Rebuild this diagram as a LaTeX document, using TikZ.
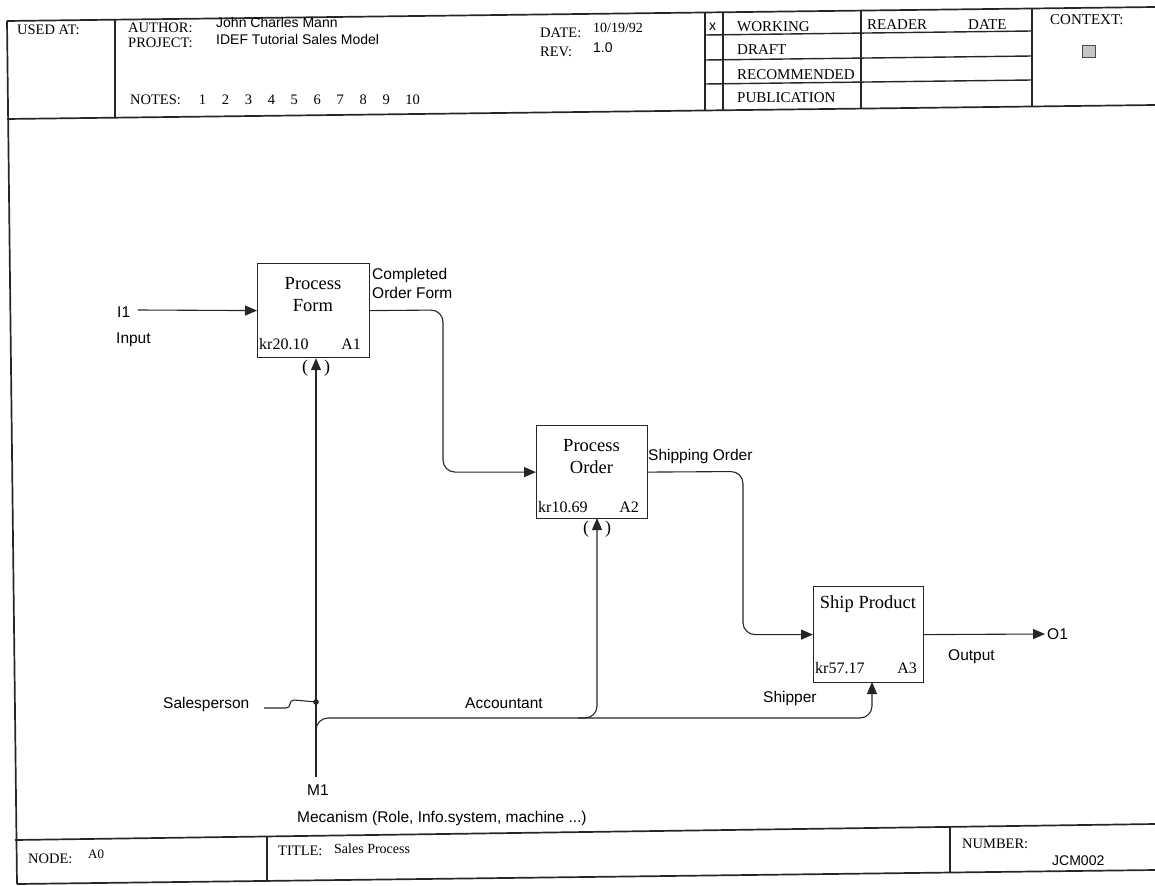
\documentclass[tikz,border=0pt]{standalone}
\usepackage{fontspec}
\setmainfont{Liberation Serif}
\newfontfamily\sansf{Liberation Sans}
\usetikzlibrary{arrows.meta}
\begin{document}
\begin{tikzpicture}[x=1pt,y=-1pt,
  frame/.style={line width=1.7pt, draw=black!85},
  grid/.style={line width=1.4pt, draw=black!85},
  thin/.style={line width=1.1pt, draw=black!85},
  conn/.style={line width=1.1pt, draw=black!85, rounded corners=12pt},
  arr/.style={-{Triangle[length=12pt,width=10pt]}},
  box/.style={draw=black!85, line width=1.2pt, anchor=north west, inner sep=0pt},
  hd/.style={font=\fontsize{14.5}{17}\selectfont, anchor=base west, inner sep=0pt},
  st/.style={font=\fontsize{15}{17}\selectfont, anchor=base west, inner sep=0pt},
  hv/.style={font=\sansf\fontsize{14}{17}\selectfont, anchor=base west, inner sep=0pt},
  lbl/.style={font=\sansf\fontsize{15.5}{18}\selectfont, anchor=base west, inner sep=0pt},
  bt/.style={font=\fontsize{18.5}{22}\selectfont, align=center, inner sep=0pt},
  bs/.style={font=\fontsize{16}{18}\selectfont, inner sep=0pt},
  par/.style={font=\fontsize{18}{20}\selectfont, inner sep=0pt}]
\useasboundingbox (0,0) rectangle (1155,885);

% ---------- frame ----------
\draw[frame] (7,21) -- (1155,7);
\draw[frame] (7,119) -- (1155,105);
\draw[frame] (7,21) -- (17,884);
\draw[frame] (15,840) -- (1155,824);
\draw[frame] (17,884) -- (1155,870);
\draw[frame] (115,19.7) -- (115,117.7);
\draw[frame] (705,12.5) -- (705,110.5);
\draw[grid] (723,12.3) -- (723,110.3);
\draw[grid] (861,10.6) -- (861,108.6);
\draw[frame] (1032,8.5) -- (1032,106.5);
\draw[grid] (705,35) -- (1032,31);
\draw[grid] (705,60) -- (1032,56);
\draw[grid] (705,84) -- (1032,80);
\draw[frame] (267,836.5) -- (267,881);
\draw[frame] (950,826.9) -- (950,872.5);

% ---------- header texts ----------
\node[hd] (usedat) at (17,35) {USED AT:};
\node[hd] (author) at (128,33) {AUTHOR:};
\node[hv] (authorv) at (216,28) {John Charles Mann};
\node[hd] (project) at (128,48) {PROJECT:};
\node[hv] (projectv) at (216,45) {IDEF Tutorial Sales Model};
\node[hd] (notes) at (130,105) {NOTES:\hspace{18pt}1\hspace{15.7pt}2\hspace{15.7pt}3\hspace{15.7pt}4\hspace{15.7pt}5\hspace{15.7pt}6\hspace{15.7pt}7\hspace{15.7pt}8\hspace{15.7pt}9\hspace{15.7pt}10};
\node[hd] (date) at (540,38) {DATE:};
\node[font=\fontsize{14}{16}\selectfont, anchor=base west, inner sep=0pt] (datev) at (593,33) {10/19/92};
\node[hd] (rev) at (540,57) {REV:};
\node[hv] (revv) at (593,53) {1.0};
\node[hv] (xmark) at (709,31) {x};
\node[st] (working) at (737,32) {WORKING};
\node[st] (draft) at (737,55) {DRAFT};
\node[st] (recom) at (737,80) {RECOMMENDED};
\node[st] (public) at (737,103) {PUBLICATION};
\node[st] (reader) at (867,30) {READER};
\node[st] (rdate) at (968,30) {DATE};
\node[st] (context) at (1050,25) {CONTEXT:};
\filldraw[fill=gray!45, draw=gray!60!black, line width=0.8pt] (1082,45) rectangle (1095,57);

% ---------- footer texts ----------
\node[hd] (node) at (28,863) {NODE:};
\node[font=\fontsize{13}{15}\selectfont, anchor=base west, inner sep=0pt] (nodev) at (88,858) {A0};
\node[hd] (title) at (278,855) {TITLE:};
\node[font=\fontsize{14}{16}\selectfont, anchor=base west, inner sep=0pt] (titlev) at (334,853) {Sales Process};
\node[hd] (number) at (962,848) {NUMBER:};
\node[hv] (numberv) at (1052,865) {JCM002};

% ---------- activity boxes ----------
\node[box, minimum width=112pt, minimum height=94pt] (A1) at (257,263) {};
\node[box, minimum width=111pt, minimum height=93pt] (A2) at (536,425) {};
\node[box, minimum width=110pt, minimum height=96pt] (A3) at (813,586) {};

\node[bt] (A1t) at (313,295) {Process\\Form};
\node[bs, anchor=base west] (A1k) at (259,349.5) {kr20.10};
\node[bs, anchor=base east] (A1n) at (361,349.5) {A1};
\node[bt] (A2t) at (591.5,456.5) {Process\\Order};
\node[bs, anchor=base west] (A2k) at (538,512.5) {kr10.69};
\node[bs, anchor=base east] (A2n) at (639,512.5) {A2};
\node[font=\fontsize{18.5}{22}\selectfont, anchor=base, inner sep=0pt] (A3t) at (868,608) {Ship Product};
\node[bs, anchor=base west] (A3k) at (815,673.5) {kr57.17};
\node[bs, anchor=base east] (A3n) at (917,673.5) {A3};

% ---------- coordinates ----------
\coordinate (i1) at (138,310);
\coordinate (o1) at (1045,634);
\coordinate (m1) at (316,777);
\coordinate (jn) at (316,702);
\coordinate (b0) at (316,760);
\coordinate (c1) at (443,310);
\coordinate (c2) at (743,471.5);
\coordinate (h3) at (872,718);
\coordinate (a3m) at (872,682);
\coordinate (h2) at (578,718);
\coordinate (a2m) at (597,518);
\coordinate (sp0) at (264,708);

% ---------- connectors ----------
\draw[thin, arr] (i1) -- (A1.west);
\draw[conn, arr] (A1.east) -- (c1) |- (A2.west);
\draw[conn, arr] (A2.east) -- (c2) |- (A3.west);
\draw[thin, arr] (A3.east) -- (o1);
\draw[thin, arr] (m1) -- (m1 |- A1.south);
\draw[conn, arr] (b0) |- (h3) -- (a3m);
\draw[conn, arr] (h2) -| (a2m);
\draw[thin] (sp0) -- (286,708) .. controls (292,708) and (288,700) .. (294,700) -- (jn);
\fill[black!85] (jn) circle (2.8pt);

% tunnel parentheses
\node[par] (p1l) at (305,368) {(};
\node[par] (p1r) at (327,368) {)};
\node[par] (p2l) at (586,529) {(};
\node[par] (p2r) at (608,529) {)};

% ---------- labels ----------
\node[lbl] (l_i1) at (117,317.5) {I1};
\node[lbl] (l_in) at (116,343) {Input};
\node[lbl] (l_co1) at (372,279.5) {Completed};
\node[lbl] (l_co2) at (372,298.5) {Order Form};
\node[lbl] (l_so) at (648,460.5) {Shipping Order};
\node[lbl] (l_sp) at (163,708.5) {Salesperson};
\node[lbl] (l_ac) at (465,708.5) {Accountant};
\node[lbl] (l_sh) at (763,702.5) {Shipper};
\node[lbl] (l_out) at (948,660.5) {Output};
\node[lbl] (l_o1) at (1047,639.5) {O1};
\node[lbl] (l_m1) at (307,795.5) {M1};
\node[lbl] (l_mec) at (297,822.5) {Mecanism (Role, Info.system, machine ...)};
\end{tikzpicture}
\end{document}
